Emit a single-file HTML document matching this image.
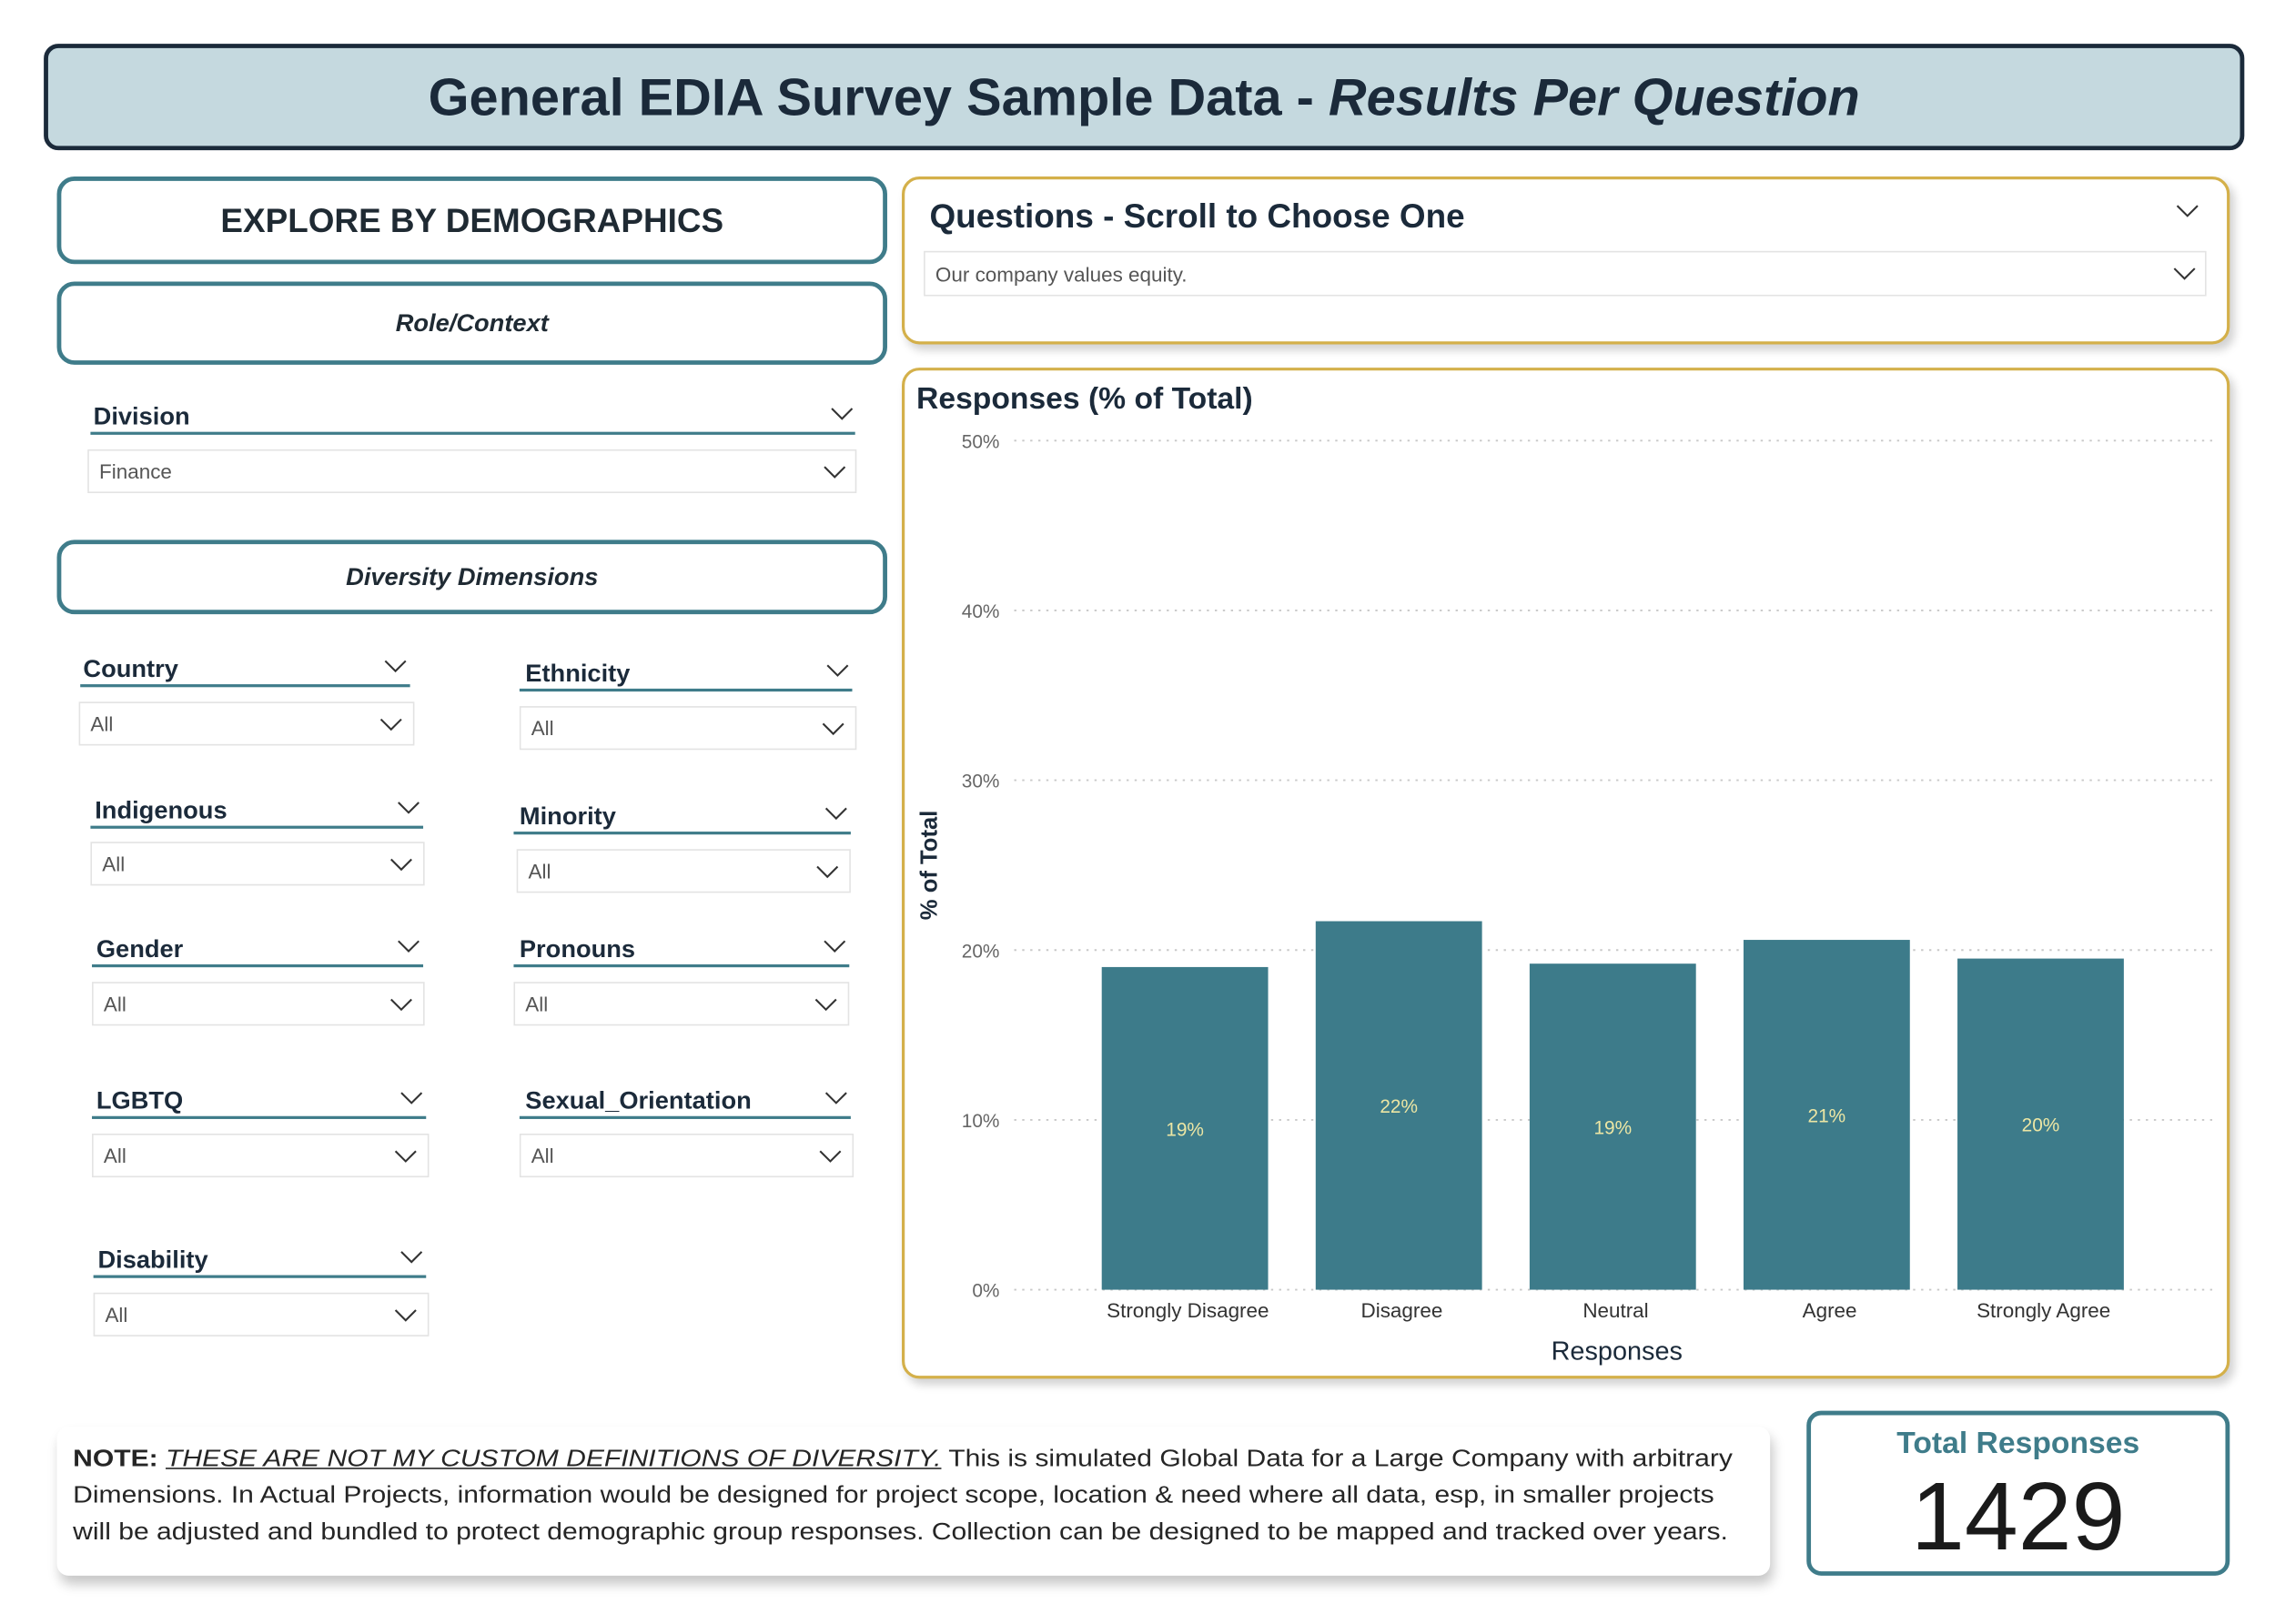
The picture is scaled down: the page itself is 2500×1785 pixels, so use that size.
<!DOCTYPE html>
<html><head><meta charset="utf-8"><style>
html,body{margin:0;padding:0;background:#fff;width:2500px;height:1785px;overflow:hidden}
#stage{position:absolute;left:0;top:0;width:1559px;height:1113px;transform:scale(1.60359);transform-origin:0 0;font-family:"Liberation Sans",sans-serif;color:#1b2a3a}
.abs{position:absolute;box-sizing:border-box}
.tealbox{border:3px solid #3f7c8a;border-radius:12px;background:#fff;display:flex;align-items:center;justify-content:center;font-weight:bold;color:#1f2a33}
.goldbox{border:2px solid #d4b04a;border-radius:12px;background:#fff;box-shadow:3px 4px 6px rgba(0,0,0,.18)}
.lbl{position:absolute;font-weight:bold;font-size:17px;color:#1b2a3a}
.uline{position:absolute;height:2px;background:#3f7c8a}
.dd{position:absolute;box-sizing:border-box;border:1px solid #e3e3e3;background:#fff;font-size:14px;color:#555;padding-left:7px;display:flex;align-items:center}
.chev{position:absolute;width:16px;height:10px}
</style></head><body>
<div id="stage">

<div class="abs" style="left:30px;top:30px;width:1508px;height:73px;background:#c5d9df;border:3px solid #1b2a3a;border-radius:10px;display:flex;align-items:center;justify-content:center;font-size:36px;font-weight:bold;color:#1b2a3a">General EDIA Survey Sample Data -&nbsp;<i>Results Per Question</i></div>

<div class="abs tealbox" style="left:39px;top:121px;width:569px;height:60px;font-size:23px">EXPLORE BY DEMOGRAPHICS</div>
<div class="abs tealbox" style="left:39px;top:193px;width:569px;height:57px;font-size:17px;font-style:italic">Role/Context</div>

<div class="lbl" style="left:64px;top:276px">Division</div>
<div class="uline" style="left:62px;top:296px;width:524px"></div>
<svg class="chev" style="left:569px;top:279px" viewBox="0 0 16 10"><polyline points="1,1 8,8 15,1" fill="none" stroke="#333" stroke-width="1.3"/></svg>
<div class="dd" style="left:60px;top:308px;width:527px;height:30px">Finance</div>
<svg class="chev" style="left:564px;top:319px" viewBox="0 0 16 10"><polyline points="1,1 8,8 15,1" fill="none" stroke="#333" stroke-width="1.3"/></svg>

<div class="abs tealbox" style="left:39px;top:370px;width:569px;height:51px;font-size:17px;font-style:italic">Diversity Dimensions</div>

<div id="slicers"></div>

<div class="abs goldbox" style="left:618px;top:121px;width:910px;height:115px"></div>
<div class="abs" style="left:637px;top:135px;font-size:23px;font-weight:bold;color:#1b2a3a">Questions - Scroll to Choose One</div>
<svg class="chev" style="left:1491px;top:140px" viewBox="0 0 16 10"><polyline points="1,1 8,8 15,1" fill="none" stroke="#333" stroke-width="1.3"/></svg>
<div class="dd" style="left:633px;top:172px;width:879px;height:31px">Our company values equity.</div>
<svg class="chev" style="left:1489px;top:183px" viewBox="0 0 16 10"><polyline points="1,1 8,8 15,1" fill="none" stroke="#333" stroke-width="1.3"/></svg>

<div class="abs goldbox" style="left:618px;top:252px;width:910px;height:693px"></div>
<svg id="chart" class="abs" style="left:0;top:0" width="1559" height="1113"></svg>

<div class="abs" style="left:39px;top:978px;width:1174px;height:102px;background:#fff;border-radius:8px;box-shadow:2px 6px 8px rgba(0,0,0,.22);padding:10px 0 0 11px;font-size:16.4px;line-height:25px;color:#252525"><div style="transform:scaleX(1.143);transform-origin:0 0;white-space:nowrap"><b>NOTE:</b> <i><u>THESE ARE NOT MY CUSTOM DEFINITIONS OF DIVERSITY.</u></i> This is simulated Global Data for a Large Company with arbitrary<br>Dimensions. In Actual Projects, information would be designed for project scope, location &amp; need where all data, esp, in smaller projects<br>will be adjusted and bundled to protect demographic group responses. Collection can be designed to be mapped and tracked over years.</div></div>

<div class="abs" style="left:1238px;top:967px;width:290px;height:113px;border:3px solid #3f7c8a;border-radius:10px;background:#fff;text-align:center">
<div style="font-size:21px;font-weight:bold;color:#3f7c8a;margin-top:8px">Total Responses</div>
<div style="font-size:66px;color:#1a1a1a;line-height:70px;margin-top:2px">1429</div>
</div>
</div>

<script>
// slicers
const slicerNames=["Country","Ethnicity","Indigenous","Minority","Gender","Pronouns","LGBTQ","Sexual_Orientation","Disability"];
const slicerBoxes=[[57,459,55,226,54,481,230],[360,462,356,228,356,484,231],[65,556,62,228,62,577,229],[356,560,352,231,354,582,229],[66,651,63,227,63,673,228],[356,651,352,230,352,673,230],[66,755,63,229,63,777,231],[360,755,356,227,356,777,229],[67,864,64,228,64,886,230]];
const host=document.getElementById('slicers');
const chevSvg='<polyline points="1,1 8,8 15,1" fill="none" stroke="#333" stroke-width="1.3"/>';
slicerNames.forEach((n,i)=>{
  const b=slicerBoxes[i];const key=n.toLowerCase().replace('_','-');
  const l=document.createElement('div');l.className='lbl';l.style.left=b[0]+'px';l.style.top=(b[1]-10)+'px';l.textContent=n;
  
  
  host.appendChild(l);
  const u=document.createElement('div');u.className='uline';u.style.left=b[2]+'px';u.style.top=(b[1]+10)+'px';u.style.width=b[3]+'px';
  
  
  host.appendChild(u);
  const c1=document.createElementNS('http://www.w3.org/2000/svg','svg');c1.setAttribute('class','chev');c1.setAttribute('viewBox','0 0 16 10');c1.innerHTML=chevSvg;c1.style.left=(b[2]+b[3]-18)+'px';c1.style.top=(b[1]-7)+'px';
  
  
  host.appendChild(c1);
  const d=document.createElement('div');d.className='dd';d.style.left=b[4]+'px';d.style.top=b[5]+'px';d.style.width=b[6]+'px';d.style.height='30px';d.textContent='All';
  
  
  host.appendChild(d);
  const c2=document.createElementNS('http://www.w3.org/2000/svg','svg');c2.setAttribute('class','chev');c2.setAttribute('viewBox','0 0 16 10');c2.innerHTML=chevSvg;c2.style.left=(b[4]+b[6]-24)+'px';c2.style.top=(b[5]+11)+'px';
  
  
  host.appendChild(c2);
});

// chart data
const categories=["Strongly Disagree","Disagree","Neutral","Agree","Strongly Agree"];
const values=[19.0,21.7,19.2,20.6,19.5];
const valueLabels=["19%","22%","19%","21%","20%"];
const yTicks=[0,10,20,30,40,50];

const svg=document.getElementById('chart');const NS='http://www.w3.org/2000/svg';
const X0=695,X1=1518,Y0=884,Y1=302,yMax=50;
const y=v=>Y0-(v/yMax)*(Y0-Y1);
const step=146.6;
const xc=i=>812+i*step;
function el(t,a,txt){const e=document.createElementNS(NS,t);for(const k in a)e.setAttribute(k,a[k]);if(txt!==undefined)e.textContent=txt;svg.appendChild(e);return e;}
let t=el('text',{x:628,y:280,'font-size':21,'font-weight':'bold',fill:'#1b2a3a'},'Responses (% of Total)');


yTicks.forEach(v=>{
  const g=el('line',{x1:X0,x2:X1,y1:y(v),y2:y(v),stroke:'#c8c8c8','stroke-width':1.2,'stroke-dasharray':'1.5 4'});
  
  
  const l=el('text',{x:685,y:y(v)+5,'font-size':13,fill:'#666','text-anchor':'end'},v+'%');
  
  
});
categories.forEach((c,i)=>{
  const r=el('rect',{x:xc(i)-57,y:y(values[i]),width:114,height:Y0-y(values[i]),fill:'#3d7b8a'});
  
  
  const vl=el('text',{x:xc(i),y:(y(values[i])+Y0)/2+5,'font-size':13,fill:'#ece6a4','text-anchor':'middle'},valueLabels[i]);
  
  
  const xl=el('text',{x:xc(i)+2,y:903,'font-size':14,fill:'#333','text-anchor':'middle'},c);
  
  
});
t=el('text',{x:1108,y:932,'font-size':18,fill:'#1b2a3a','text-anchor':'middle'},'Responses');


t=el('text',{x:0,y:0,'font-size':16,'font-weight':'bold',fill:'#1b2a3a','text-anchor':'middle',transform:'translate(642,593) rotate(-90)'},'% of Total');


</script>
</body></html>
